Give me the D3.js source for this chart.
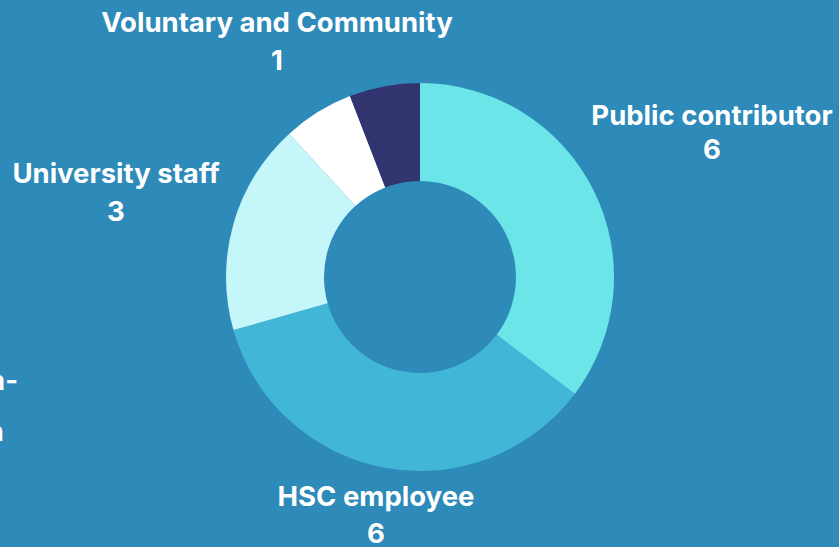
<!DOCTYPE html>
<html><head><meta charset="utf-8">
<script src="https://cdn.jsdelivr.net/npm/d3@7"></script>
<style>
html,body{margin:0;padding:0;background:#2D8AB9;overflow:hidden;}
text{font-family:Inter,"Open Sans",sans-serif;font-weight:700;fill:#ffffff;}
</style></head>
<body>
<svg id="chart" width="839" height="547"></svg>
<script>
const categories = ["Public contributor", "HSC employee", "University staff", "Non-HSC organisation", "Voluntary and Community"];
const values = [6, 6, 3, 1, 1];
const colors = ["#6CE5E8", "#41B6D6", "#C4F6FA", "#FFFFFF", "#31346F"];

const W = 839, H = 547, cx = 420, cy = 277, outerR = 194, innerR = 96;
const svg = d3.select("#chart");
svg.append("rect").attr("width", W).attr("height", H).attr("fill", "#2D8AB9");

const data = categories.map((c, i) => ({ cat: c, value: values[i], color: colors[i] }));
const pie = d3.pie().value(d => d.value).sort(null);
const arcs = pie(data);
const arc = d3.arc().innerRadius(innerR).outerRadius(outerR);

const g = svg.append("g").attr("transform", `translate(${cx},${cy})`);
g.selectAll("path").data(arcs).enter().append("path")
  .attr("d", arc).attr("fill", d => d.data.color);

const labelLayout = {
  "Public contributor": { pos: [712, 132], sp: 34 },
  "HSC employee": { pos: [376, 515], sp: 37 },
  "University staff": { pos: [116, 192], sp: 38 },
  "Voluntary and Community": { pos: [277, 41], sp: 38 },
  "Non-HSC organisation": { pos: [-70, 431], lines: ["Non-HSC Non-", "organisation"], spacing: 51, ends: [18, 4] }
};

arcs.forEach(a => {
  const L = labelLayout[a.data.cat];
  const t = svg.append("text").attr("font-size", 27.5);
  if (L.lines) {
    // partially off-canvas label (as in the reference)
    const y0 = L.pos[1] - L.spacing;
    L.lines.forEach((ln, i) => {
      t.append("tspan").attr("text-anchor", "end").attr("x", L.ends[i]).attr("y", y0 + i * L.spacing)
        .attr("dy", "0.35em").text(ln);
    });
    return;
  }
  const lines = [a.data.cat, String(a.data.value)];
  const sp = L.sp;
  t.attr("text-anchor", "middle");
  const y0 = L.pos[1] - sp * (lines.length - 1) / 2;
  lines.forEach((ln, i) => {
    t.append("tspan").attr("x", L.pos[0]).attr("y", y0 + i * sp).attr("dy", "0.35em").text(ln);
  });
});
</script>
</body></html>
